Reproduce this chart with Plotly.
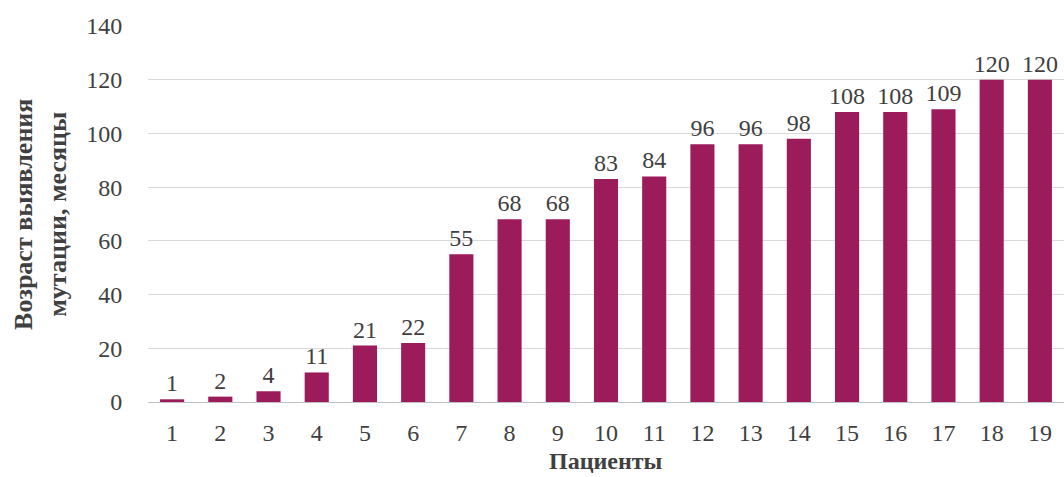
import plotly.graph_objects as go

patients = [str(i) for i in range(1, 20)]
ages = [1, 2, 4, 11, 21, 22, 55, 68, 68, 83, 84, 96, 96, 98, 108, 108, 109, 120, 120]
y_ticks = [0, 20, 40, 60, 80, 100, 120, 140]

FONT = "Liberation Serif, Times New Roman, serif"
TXT = "#404040"
NUM = 24
TITLE = 26

fig = go.Figure(go.Bar(
    x=patients, y=ages,
    marker=dict(color="#9B1B5B", line=dict(width=0)),
    width=0.5,
    text=[str(v) for v in ages], textposition="outside",
    constraintext="none",
    textfont=dict(family=FONT, size=NUM, color=TXT),
    cliponaxis=False,
))

fig.update_layout(
    width=1064, height=477,
    margin=dict(l=148, r=0, t=26, b=75),
    paper_bgcolor="white", plot_bgcolor="white",
    showlegend=False,
    font=dict(family=FONT, color=TXT),
    xaxis=dict(
        type="category", showgrid=False, showline=False,
        ticks="outside", ticklen=9, tickcolor="rgba(0,0,0,0)",
        tickfont=dict(family=FONT, size=NUM, color=TXT),
    ),
    yaxis=dict(
        range=[0, 140], tickvals=y_ticks,
        showgrid=True, gridcolor="#d9d9d9", gridwidth=1,
        zeroline=True, zerolinecolor="#bfbfbf", zerolinewidth=1,
        showline=False,
        ticks="outside", ticklen=20, tickcolor="rgba(0,0,0,0)",
        tickfont=dict(family=FONT, size=NUM, color=TXT),
    ),
    annotations=[
        dict(text="<b>Возраст выявления<br>мутации, месяцы</b>",
             xref="paper", yref="paper", x=-0.118, y=0.5,
             xanchor="center", yanchor="middle", textangle=-90,
             showarrow=False, font=dict(family=FONT, size=TITLE, color=TXT)),
        dict(text="<b>Пациенты</b>",
             xref="paper", yref="paper", x=0.5, y=-0.158,
             xanchor="center", yanchor="middle",
             showarrow=False, font=dict(family=FONT, size=24, color=TXT)),
    ],
)

fig.write_html("out.html")
